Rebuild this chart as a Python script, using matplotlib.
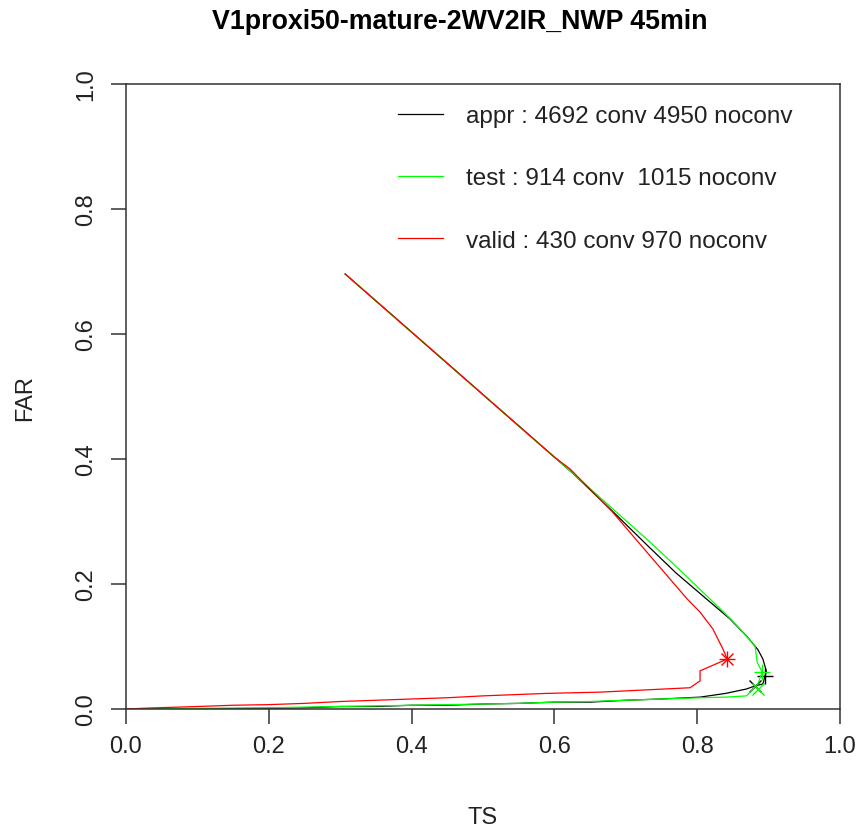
import matplotlib.pyplot as plt

plt.rcParams['font.family'] = ['Liberation Sans', 'DejaVu Sans']

# curve data (TS, FAR), going from top-left round to the origin
appr_ts = [0.307, 0.40, 0.50, 0.60, 0.626, 0.68, 0.73, 0.77, 0.813, 0.845, 0.869, 0.885,
           0.892, 0.897, 0.895, 0.892, 0.881, 0.869, 0.84, 0.804, 0.75, 0.70, 0.65, 0.60,
           0.55, 0.50, 0.45, 0.40, 0.35, 0.30, 0.25, 0.20, 0.10, 0.0]
appr_far = [0.696, 0.603, 0.503, 0.403, 0.377, 0.318, 0.262, 0.218, 0.176, 0.145, 0.117, 0.095,
            0.080, 0.060, 0.053, 0.040, 0.037, 0.032, 0.025, 0.019, 0.016, 0.014, 0.011, 0.011,
            0.009, 0.008, 0.006, 0.006, 0.004, 0.004, 0.002, 0.001, 0.0005, 0.0]

test_ts = [0.307, 0.40, 0.50, 0.60, 0.626, 0.68, 0.734, 0.776, 0.818, 0.845, 0.864, 0.881,
           0.884, 0.891, 0.885, 0.869, 0.84, 0.804, 0.75, 0.70, 0.65, 0.60, 0.55, 0.50,
           0.45, 0.40, 0.35, 0.30, 0.25, 0.20, 0.10, 0.0]
test_far = [0.696, 0.603, 0.503, 0.403, 0.377, 0.322, 0.267, 0.222, 0.176, 0.146, 0.123, 0.101,
            0.075, 0.059, 0.040, 0.021, 0.019, 0.018, 0.016, 0.014, 0.012, 0.011, 0.009, 0.008,
            0.007, 0.006, 0.005, 0.004, 0.003, 0.002, 0.001, 0.0]

valid_ts = [0.307, 0.40, 0.50, 0.60, 0.622, 0.68, 0.734, 0.786, 0.804, 0.822, 0.836, 0.842,
            0.804, 0.804, 0.79, 0.664, 0.59, 0.50, 0.45, 0.40, 0.35, 0.30, 0.25, 0.20,
            0.15, 0.10, 0.034, 0.0]
valid_far = [0.696, 0.603, 0.503, 0.403, 0.384, 0.317, 0.245, 0.176, 0.155, 0.128, 0.096, 0.080,
             0.061, 0.045, 0.034, 0.027, 0.025, 0.021, 0.018, 0.016, 0.014, 0.012, 0.009, 0.007,
             0.006, 0.004, 0.0016, 0.0]

# marker positions (+ and x) for each curve
plus_pts = {'appr': (0.895, 0.053), 'test': (0.891, 0.059), 'valid': (0.842, 0.080)}
x_pts = {'appr': (0.881, 0.037), 'test': (0.885, 0.032), 'valid': (0.842, 0.080)}

labels = ['appr : 4692 conv 4950 noconv',
          'test : 914 conv  1015 noconv',
          'valid : 430 conv 970 noconv']
colors = ['black', '#00ff00', '#ff0000']

fig = plt.figure(figsize=(8.58, 8.29), dpi=100)
ax = fig.add_axes([126 / 858, 1 - 710 / 829, 714 / 858, 625 / 829])

curves = [('appr', appr_ts, appr_far), ('test', test_ts, test_far), ('valid', valid_ts, valid_far)]
for (name, xs, ys), c, lab in zip(curves, colors, labels):
    ax.plot(xs, ys, color=c, lw=0.9, label=lab)
    ax.plot(*plus_pts[name], marker='+', color=c, ms=11, mew=1.0, ls='none')
    ax.plot(*x_pts[name], marker='x', color=c, ms=8, mew=1.0, ls='none')

ax.set_xlim(0, 1)
ax.set_ylim(0, 1)
ticks = [0.0, 0.2, 0.4, 0.6, 0.8, 1.0]
ax.set_xticks(ticks)
ax.set_yticks(ticks)
ax.set_xticklabels(['%.1f' % t for t in ticks], fontsize=17)
ax.set_yticklabels(['%.1f' % t for t in ticks], fontsize=17, rotation=90, va='center')
ax.tick_params(direction='out', length=11, width=1.1, colors='#333333',
               labelcolor='#222222', pad=8)
ax.tick_params(axis='y', pad=10)
for s in ax.spines.values():
    s.set_color('#333333')
    s.set_linewidth(1.1)

leg = ax.legend(loc='upper left', bbox_to_anchor=((398 - 126) / 714, (710 - 106) / 625),
                frameon=False, borderaxespad=0, borderpad=0, fontsize=17.5,
                handlelength=1.85, handletextpad=0.95, labelspacing=1.66)
for t in leg.get_texts():
    t.set_color('#222222')

fig.text(460 / 858, 1 - 22 / 829, 'V1proxi50-mature-2WV2IR_NWP 45min', ha='center',
         va='center', fontsize=19.3, fontweight='bold')
fig.text(483 / 858, 1 - 818 / 829, 'TS', ha='center', va='center', fontsize=17, color='#222222')
fig.text(25 / 858, 1 - 398 / 829, 'FAR', ha='center', va='center', fontsize=17,
         rotation=90, color='#222222')

fig.savefig('out.png', dpi=100)
